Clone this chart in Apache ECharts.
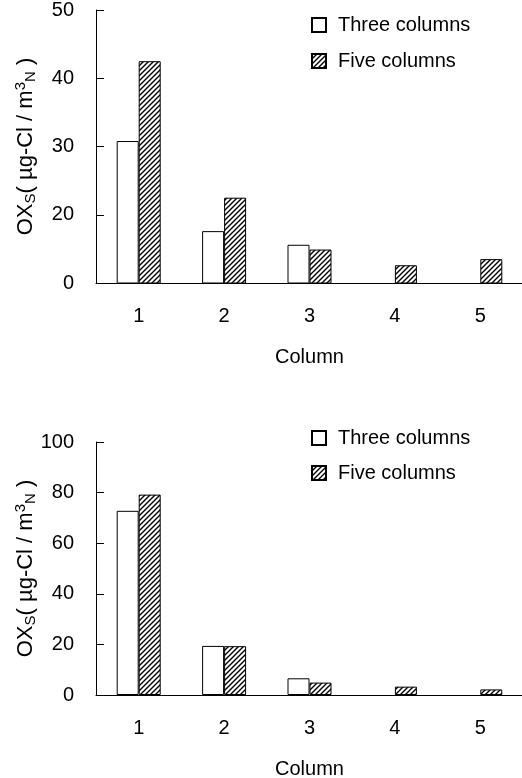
<!DOCTYPE html>
<html>
<head>
<meta charset="utf-8">
<script src="https://cdn.jsdelivr.net/npm/echarts@6/dist/echarts.min.js"></script>
<style>
html,body{margin:0;padding:0;background:#fff;}
#c{width:522px;height:778px;}
</style>
</head>
<body>
<div id="c"></div>
<script>
// ---- data ----
var categories = ['1', '2', '3', '4', '5'];
var seriesNames = ['Three columns', 'Five columns'];
// upper panel (axis labelled 0,20,30,40,50; lowest tick labelled "0")
var topThree = [30.8, 17.6, 15.6, null, null];
var topFive = [42.5, 22.5, 14.9, 12.6, 13.5];
var topTickLabels = {10: '0', 20: '20', 30: '30', 40: '40', 50: '50'};
// lower panel
var botThree = [72.8, 19.4, 6.6, null, null];
var botFive = [79.2, 19.3, 4.9, 3.3, 2.2];
var xName = 'Column';

// ---- hatch pattern ----
function hatch() {
  var s = 5;
  var cv = document.createElement('canvas');
  cv.width = s; cv.height = s;
  var g = cv.getContext('2d');
  g.fillStyle = '#fff';
  g.fillRect(0, 0, s, s);
  g.strokeStyle = '#000';
  g.lineWidth = 1.4;
  g.beginPath();
  g.moveTo(-1, s + 1); g.lineTo(s + 1, -1);
  g.moveTo(-1, 1); g.lineTo(1, -1);
  g.moveTo(s - 1, s + 1); g.lineTo(s + 1, s - 1);
  g.stroke();
  return cv;
}
var hatchImg = hatch();

var FONT = "'Liberation Sans', Arial, sans-serif";
var FS = 20;
var NFS = 22;
var TXT = '#000';

var yNameRich = {
  n: {fontSize: NFS, fontFamily: FONT, color: TXT},
  sub: {fontSize: 15, fontFamily: FONT, color: TXT, verticalAlign: 'bottom', padding: [8, 0, 0, 0]},
  sup: {fontSize: 15, fontFamily: FONT, color: TXT, verticalAlign: 'top', padding: [0, 0, 10, 0]}
};
var yName = '{n|OX}{sub|S}{n|( µg-Cl / m}{sup|3}{sub|N}{n| )}';

function xAxis(gi) {
  return {
    gridIndex: gi, type: 'category', data: categories,
    name: xName, nameLocation: 'middle', nameGap: 64,
    nameTextStyle: {fontSize: FS, fontFamily: FONT, color: TXT},
    axisLine: {lineStyle: {color: '#000', width: 1}},
    axisTick: {inside: true, length: 8, lineStyle: {color: '#000'}},
    axisLabel: {fontSize: FS, fontFamily: FONT, color: TXT, margin: 23},
    splitLine: {show: false}
  };
}
function yAxis(gi, min, max, interval, fmt) {
  return {
    gridIndex: gi, type: 'value', min: min, max: max, interval: interval,
    name: yName, nameLocation: 'middle', nameRotate: 90, nameGap: 58,
    nameMoveOverlap: false,
    nameTextStyle: {rich: yNameRich, fontSize: NFS, fontFamily: FONT, color: TXT},
    axisLine: {show: true, lineStyle: {color: '#000', width: 1}},
    axisTick: {show: true, inside: true, length: 8, lineStyle: {color: '#000'}},
    axisLabel: {fontSize: FS, fontFamily: FONT, color: TXT, margin: 22, formatter: fmt},
    splitLine: {show: false}
  };
}
function bars(name, data, gi, pattern) {
  return {
    name: name, type: 'bar', xAxisIndex: gi, yAxisIndex: gi, data: data,
    barWidth: 22, barGap: '0%', clip: true,
    itemStyle: {
      color: pattern ? {image: hatchImg, repeat: 'repeat'} : '#fff',
      borderColor: '#000', borderWidth: 1
    },
    emphasis: {disabled: true}
  };
}
function legend(top, gap) {
  return {
    orient: 'vertical', left: 306, top: top, itemGap: gap,
    icon: 'rect', itemWidth: 14, itemHeight: 14,
    data: seriesNames,
    textStyle: {fontSize: FS, fontFamily: FONT, color: TXT, padding: [0, 0, 0, 7]},
    selectedMode: false
  };
}

var chart = echarts.init(document.getElementById('c'), null, {renderer: 'canvas'});
chart.setOption({
  animation: false,
  backgroundColor: '#fff',
  grid: [
    {left: 96, top: 10, width: 427, height: 273, containLabel: false, outerBoundsMode: 'none'},
    {left: 96, top: 442, width: 427, height: 253, containLabel: false, outerBoundsMode: 'none'}
  ],
  legend: [legend(10, 16), legend(423, 15)],
  xAxis: [xAxis(0), xAxis(1)],
  yAxis: [
    yAxis(0, 10, 50, 10, function (v) { return topTickLabels[v]; }),
    yAxis(1, 0, 100, 20, null)
  ],
  series: [
    bars(seriesNames[0], topThree, 0, false),
    bars(seriesNames[1], topFive, 0, true),
    bars(seriesNames[0], botThree, 1, false),
    bars(seriesNames[1], botFive, 1, true)
  ]
});
</script>
</body>
</html>
